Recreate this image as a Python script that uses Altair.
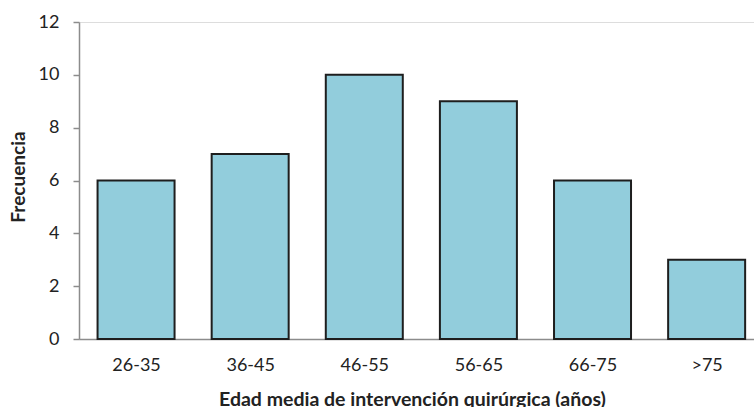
import json
import altair as alt
import pandas as pd

categories = ["26-35", "36-45", "46-55", "56-65", "66-75", ">75"]
frecuencia = [6, 7, 10, 9, 6, 3]
positions = [1, 2, 3, 4, 5, 6]
y_ticks = [0, 2, 4, 6, 8, 10, 12]

df = pd.DataFrame({"grupo": categories, "frecuencia": frecuencia, "pos": positions})
label_expr = json.dumps(categories) + "[datum.value - 1]"

FONT = "Lato"

chart = alt.Chart(df).mark_bar(
    size=77, color="#92CDDC", stroke="#1e1e1e", strokeWidth=2
).encode(
    x=alt.X("pos:Q",
            scale=alt.Scale(domain=[0.5, 6.415], nice=False, zero=False, padding=0),
            axis=alt.Axis(values=positions, labelExpr=label_expr, grid=False,
                          ticks=False, tickSize=0, labelPadding=17,
                          labelFontSize=18, labelFont=FONT, labelColor="#222222",
                          domainColor="#8c8c8c", domainWidth=1.5,
                          title="Edad media de intervención quirúrgica (años)",
                          titleFont=FONT, titleFontSize=19.5, titleFontWeight="bold",
                          titleColor="#222222", titleX=333, titleY=60,
                          titleBaseline="middle", titleAlign="center", labelFlush=False)),
    y=alt.Y("frecuencia:Q",
            scale=alt.Scale(domain=[0, 12], nice=False),
            axis=alt.Axis(values=y_ticks, grid=False, tickSize=6, tickColor="#8c8c8c",
                          tickWidth=1.5, domainColor="#8c8c8c", domainWidth=1.5,
                          labelPadding=14, labelFontSize=18, labelFont=FONT,
                          labelColor="#222222", title="Frecuencia",
                          titleFont=FONT, titleFontSize=19, titleFontWeight="bold",
                          titleColor="#222222", titleX=-60.5, titleY=154.5,
                          titleBaseline="middle", titleAlign="center", titleAngle=-90)),
).properties(
    width=675, height=317,
    autosize=alt.AutoSizeParams(type="none"),
    padding={"left": 79, "top": 22, "right": 0, "bottom": 68},
).configure_view(stroke=None).configure(background="white")

chart.save("out.html", embed_options={"renderer": "svg", "actions": False})
